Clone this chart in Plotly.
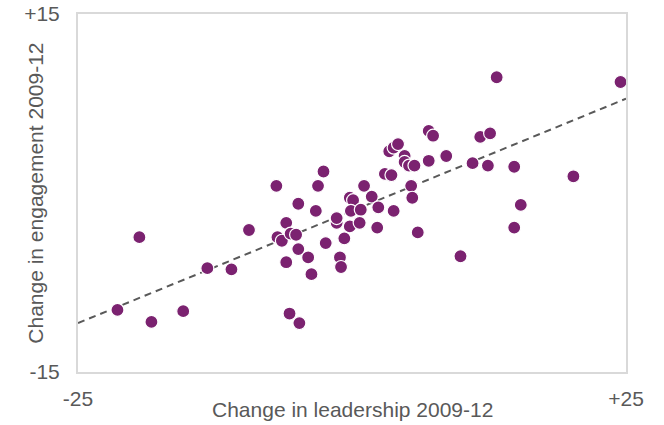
import plotly.graph_objects as go

# Change in leadership score (x) and change in engagement score (y), 2009-12
leadership = [
    -19.4, -21.4, -18.3, -15.4, -13.2, -11.0, -9.4, -6.9, -6.8, -6.4,
    -6.0, -6.0, -5.7, -4.8, -5.6, -5.1, -4.9, -4.9, -4.0, -3.7,
    -3.3, -3.1, -2.6, -2.4, -1.4, -1.4, -1.1, -1.0, -0.7, -0.2,
    0.1, -0.1, -0.2, 0.8, 0.7, 1.1, 1.8, 2.4, 2.3, 3.0,
    3.6, 3.8, 3.4, 3.8, 4.2, 4.8, 4.8, 5.2, 5.7, 5.4,
    5.5, 6.0, 7.0, 7.4, 7.0, 8.6, 9.9, 11.0, 11.7, 12.6,
    12.4, 13.2, 14.8, 15.4, 14.8, 20.2, 24.5,
]
engagement = [
    -3.7, -9.8, -10.8, -9.9, -6.3, -6.4, -3.1, 0.6, -3.7, -4.0,
    -2.5, -5.8, -10.1, -10.9, -3.4, -3.5, -0.9, -4.7, -5.4, -6.8,
    -1.5, 0.6, 1.8, -4.2, -2.5, -2.1, -5.4, -6.2, -3.8, -0.4,
    -0.6, -1.5, -2.8, -1.4, -2.5, 0.6, -0.3, -1.2, -2.9, 1.6,
    1.5, -1.5, 3.5, 3.8, 4.1, 3.1, 2.6, 2.3, 2.3, 0.6,
    -0.4, -3.3, 5.2, 4.8, 2.7, 3.1, -5.3, 2.5, 4.7, 5.0,
    2.3, 9.7, 2.2, -1.0, -2.9, 1.4, 9.3,
]

# Linear trend line: engagement value at each end of the leadership axis
trend_x = [-25, 25]
trend_y = [-10.9, 7.9]

x_range = [-25, 25]
y_range = [-15, 15]
x_tick_text = ["-25", "+25"]
y_tick_text = ["-15", "+15"]

PURPLE = "#7B2270"
GREY_TEXT = "#595959"
FONT = "Liberation Sans, Arial, sans-serif"

fig = go.Figure()
fig.add_trace(go.Scatter(
    x=trend_x, y=trend_y, mode="lines",
    line=dict(color="#595959", width=2, dash="7px,5px"),
    hoverinfo="skip", showlegend=False,
))
fig.add_trace(go.Scatter(
    x=leadership, y=engagement, mode="markers",
    marker=dict(color=PURPLE, size=13, line=dict(color="white", width=1.2)),
    showlegend=False,
))

axis_common = dict(
    showgrid=False, zeroline=False, automargin=False,
    showline=True, mirror=True, linecolor="#D9D9D9", linewidth=2,
    ticks="outside", tickcolor="rgba(0,0,0,0)",
    tickfont=dict(family=FONT, size=21, color=GREY_TEXT),
)
fig.update_xaxes(range=x_range, tickvals=x_range, ticktext=x_tick_text,
                 ticklen=7, **axis_common)
fig.update_yaxes(range=y_range, tickvals=y_range, ticktext=y_tick_text,
                 ticklen=12, **axis_common)

fig.add_annotation(
    text="Change in leadership 2009-12", xref="paper", yref="paper",
    x=0.5, y=-0.105, xanchor="center", yanchor="middle", showarrow=False,
    font=dict(family=FONT, size=21, color=GREY_TEXT),
)
fig.add_annotation(
    text="Change in engagement 2009-12", xref="paper", yref="paper",
    x=-0.079, y=0.5, xanchor="center", yanchor="middle", textangle=-90,
    showarrow=False, font=dict(family=FONT, size=21, color=GREY_TEXT),
)

fig.update_layout(
    width=664, height=425,
    margin=dict(l=78, r=38, t=14, b=53),
    plot_bgcolor="white", paper_bgcolor="white",
)

fig.write_html("out.html")
